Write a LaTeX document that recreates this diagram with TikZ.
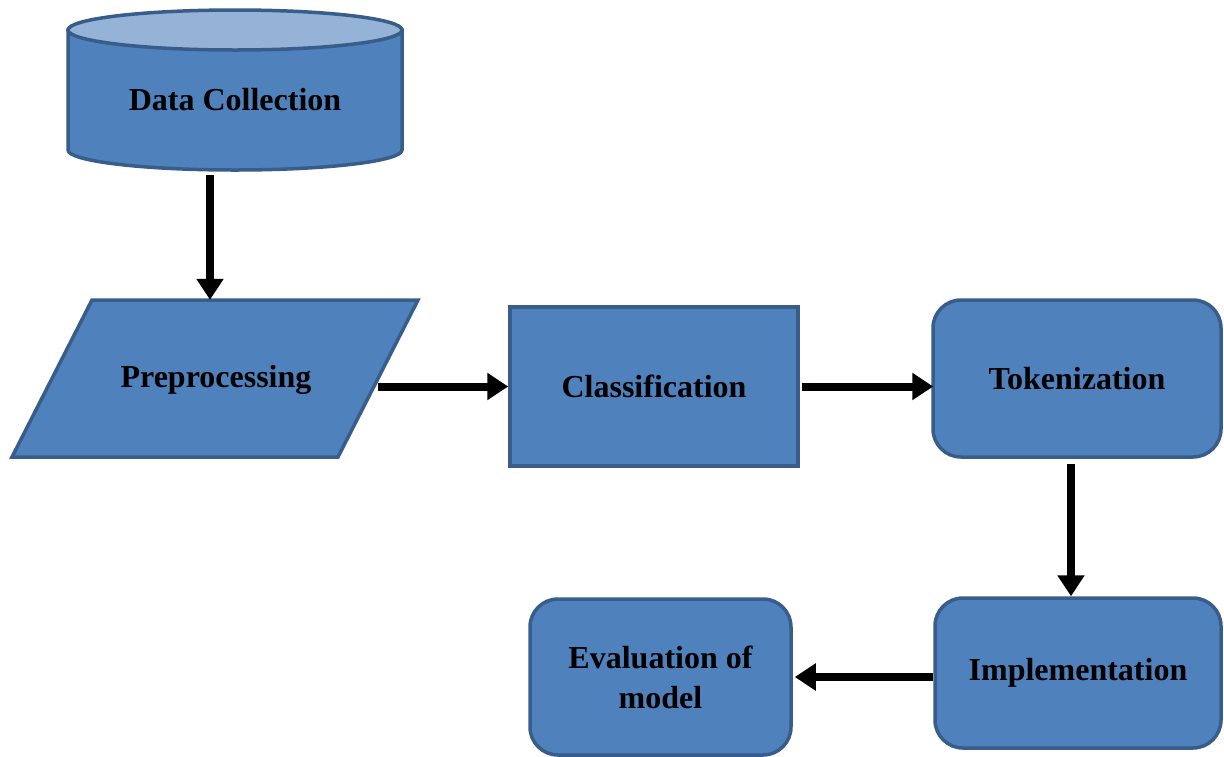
\documentclass[tikz,border=0pt]{standalone}
\usepackage{fontspec}
\setmainfont{Liberation Serif}
\usetikzlibrary{arrows.meta}
\definecolor{boxfill}{HTML}{4F81BD}
\definecolor{boxline}{HTML}{385D8A}
\definecolor{topfill}{HTML}{95B3D7}
\begin{document}
\begin{tikzpicture}[x=1pt,y=1pt,
  font=\fontsize{32}{40}\selectfont\bfseries,
  shapeline/.style={draw=boxline,line width=3.5pt,fill=boxfill},
  procbox/.style={shapeline,rectangle,inner sep=0pt,align=center},
  roundbox/.style={procbox,rounded corners=28pt},
  ghost/.style={rectangle,inner sep=0pt,align=center},
  arr/.style={line width=8pt,-{Triangle[length=21pt,width=26pt]}}]
\useasboundingbox (0,0) rectangle (1224,-756);
% cylinder (Data Collection)
\filldraw[shapeline] (68,-30) -- (68,-150)
  arc[start angle=180,end angle=360,x radius=167,y radius=20] -- (402,-30) -- cycle;
\filldraw[shapeline,fill=topfill] (235,-30) ellipse[x radius=167,y radius=20];
\node[ghost,minimum width=334pt,minimum height=140pt] (dc) at (235,-100) {Data Collection};
% parallelogram (Preprocessing)
\filldraw[shapeline,line join=miter] (92,-300) -- (418,-300) -- (338,-457) -- (12,-457) -- cycle;
\node[ghost,minimum width=326pt,minimum height=157pt] (pre) at (215,-378.5) {};
\node at (216,-380) {Preprocessing};
% boxes
\node[procbox,minimum width=288pt,minimum height=159pt] (cls) at (654,-386.5) {Classification};
\node[roundbox,minimum width=288pt,minimum height=157pt] (tok) at (1077,-378.5) {Tokenization};
\node[roundbox,minimum width=286pt,minimum height=150pt] (imp) at (1078,-673) {Implementation};
\node[roundbox,minimum width=261pt,minimum height=156pt] (eva) at (660.5,-677) {Evaluation of\\model};
% connectors
\draw[arr] ([xshift=-25pt,yshift=-5pt]dc.south) -- ([xshift=-5pt]pre.north);
\draw[arr] (pre.east |- cls.west) -- (cls.west);
\draw[arr] ([xshift=2pt]cls.east) -- ([xshift=2pt]cls.east -| tok.west);
\draw[arr] ([xshift=-6pt,yshift=-5pt]tok.south) -- ([xshift=-7pt]imp.north);
\draw[arr] (imp.west |- eva.east) -- ([xshift=2pt]eva.east);
\end{tikzpicture}
\end{document}
